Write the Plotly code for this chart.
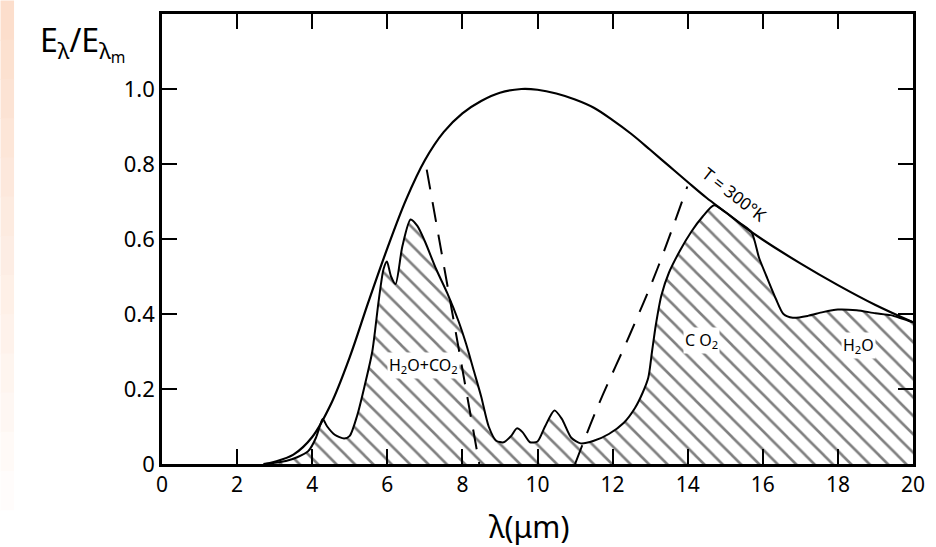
import plotly.graph_objects as go

# Blackbody curve T = 300 K (normalised)
bb_wl = [2.7, 3.0, 3.5, 4.0, 4.5, 5.0, 5.5, 6.0, 6.5, 7.0, 7.5, 8.0, 8.5, 9.0, 9.57,
         10.0, 10.5, 11.0, 11.5, 12.0, 12.5, 13.0, 13.5, 14.0, 14.5, 15.0, 15.5, 16.0,
         17.0, 18.0, 19.0, 20.0]
bb_val = [0.0, 0.006, 0.025, 0.072, 0.16, 0.285, 0.433, 0.575, 0.705, 0.81, 0.885, 0.935,
          0.968, 0.99, 1.0, 0.998, 0.988, 0.972, 0.95, 0.917, 0.88, 0.838, 0.795, 0.752,
          0.71, 0.672, 0.633, 0.598, 0.535, 0.477, 0.424, 0.378]

# Atmospheric emission (hatched) curve
at_wl = [2.75, 3.0, 3.3, 3.6, 3.9, 4.1, 4.2, 4.28, 4.4, 4.6, 4.85, 5.0, 5.2, 5.4, 5.6,
         5.77, 5.9, 5.99, 6.1, 6.22, 6.4, 6.62, 6.8, 7.0, 7.3, 7.6, 7.9, 8.1, 8.3,
         8.5, 8.7, 8.9, 9.1, 9.3, 9.45, 9.6, 9.8, 10.0, 10.2, 10.45, 10.65, 10.9, 11.15,
         11.5, 11.9, 12.3, 12.6, 12.8, 12.95, 13.05, 13.15, 13.3, 13.5, 13.8, 14.1, 14.4,
         14.7, 15.0, 15.4, 15.7, 15.9, 16.1, 16.35, 16.55, 16.8, 17.2, 17.6, 18.0, 18.5,
         19.0, 19.4, 19.7, 20.0]
at_val = [0.0, 0.003, 0.008, 0.018, 0.035, 0.07, 0.1, 0.12, 0.1, 0.078, 0.068, 0.075,
          0.13, 0.21, 0.30, 0.435, 0.52, 0.54, 0.50, 0.48, 0.58, 0.652, 0.635, 0.594,
          0.52, 0.455, 0.38, 0.32, 0.25, 0.18, 0.10, 0.062, 0.058, 0.075, 0.095, 0.085,
          0.058, 0.06, 0.10, 0.143, 0.12, 0.07, 0.055, 0.062, 0.08, 0.11, 0.15, 0.19,
          0.23, 0.30, 0.37, 0.45, 0.51, 0.57, 0.62, 0.66, 0.69, 0.672, 0.642, 0.618,
          0.55, 0.50, 0.44, 0.40, 0.39, 0.395, 0.405, 0.412, 0.41, 0.402, 0.397, 0.388,
          0.378]

# Dashed separator lines
dash1_wl = [7.05, 8.45]
dash1_val = [0.785, 0.0]
dash2_wl = [11.0, 11.6, 12.48, 13.19, 13.99]
dash2_val = [0.0, 0.152, 0.35, 0.52, 0.74]

x_ticks = [0, 2, 4, 6, 8, 10, 12, 14, 16, 18, 20]
x_ticktext = ["0", "2", "4", "6", "8", "10", "12", "14", "16", "18", "20"]
y_ticks = [0, 0.2, 0.4, 0.6, 0.8, 1.0]
y_ticktext = ["0", "0.2", "0.4", "0.6", "0.8", "1.0"]

FONT = "Noto Sans"

fig = go.Figure()

fig.add_trace(go.Scatter(
    x=at_wl, y=at_val, mode="lines", fill="tozeroy",
    line=dict(color="black", width=2, shape="spline", smoothing=0.7),
    fillcolor="rgba(0,0,0,0)",
    fillpattern=dict(shape="\\", size=13, solidity=0.2, fgcolor="black",
                     bgcolor="rgba(255,255,255,0)"),
    showlegend=False, hoverinfo="skip"))

fig.add_trace(go.Scatter(
    x=bb_wl, y=bb_val, mode="lines",
    line=dict(color="black", width=2.2, shape="spline", smoothing=1.0),
    showlegend=False, hoverinfo="skip"))

for xs, ys in [(dash1_wl, dash1_val), (dash2_wl, dash2_val)]:
    fig.add_trace(go.Scatter(
        x=xs, y=ys, mode="lines",
        line=dict(color="black", width=2, dash="20px,13px", shape="spline"),
        showlegend=False, hoverinfo="skip"))

# Peach strip at the left edge
n = 14
for i in range(n):
    t = i / (n - 1)
    r, g, b = 252 + 3 * t, 222 + 33 * t, 204 + 51 * t
    y_top = 1.03 - i * (1.22 / n)
    fig.add_shape(type="rect", xref="paper", yref="paper",
                  x0=-0.215, x1=-0.197, y0=y_top - 1.22 / n - 0.002, y1=y_top,
                  fillcolor=f"rgb({r:.0f},{g:.0f},{b:.0f})", line=dict(width=0),
                  layer="below")

ann = [
    dict(x=6.97, y=0.263, text="H<sub>2</sub>O+CO<sub>2</sub>", size=16),
    dict(x=14.36, y=0.329, text="C O<sub>2</sub>", size=16),
    dict(x=18.54, y=0.316, text="H<sub>2</sub>O", size=16),
]
for a in ann:
    fig.add_annotation(x=a["x"], y=a["y"], text=a["text"], showarrow=False,
                       xanchor="center", yanchor="middle",
                       font=dict(family=FONT, size=a["size"], color="black"),
                       bgcolor="white", borderpad=1)

fig.add_annotation(x=15.25, y=0.72, text="T = 300°K", showarrow=False, textangle=38,
                   xanchor="center", yanchor="middle",
                   font=dict(family=FONT, size=17, color="black"))

fig.add_annotation(xref="paper", yref="paper", x=-0.106, y=0.935,
                   xanchor="center", yanchor="middle",
                   text="E<sub>λ</sub>/E<sub>λ<sub>m</sub></sub>", showarrow=False,
                   font=dict(family=FONT, size=32, color="black"))
fig.add_annotation(xref="paper", yref="paper", x=0.489, y=-0.139,
                   xanchor="center", yanchor="middle",
                   text="λ(μm)", showarrow=False,
                   font=dict(family=FONT, size=30, color="black"))

axis_common = dict(showline=True, linecolor="black", linewidth=2.5, mirror="ticks",
                   ticks="inside", ticklen=15, tickwidth=2, tickcolor="black",
                   showgrid=False, zeroline=False)

fig.update_xaxes(range=[0, 20], tickvals=x_ticks, ticktext=x_ticktext,
                 tickfont=dict(family=FONT, size=21, color="black"), **axis_common)
fig.update_yaxes(range=[0, 1.2], tickvals=y_ticks, ticktext=y_ticktext,
                 tickfont=dict(family=FONT, size=22, color="black"), **axis_common)

fig.update_layout(width=936, height=547,
                  margin=dict(l=162, r=19, t=11, b=83),
                  paper_bgcolor="white", plot_bgcolor="white")

fig.write_html("out.html")
